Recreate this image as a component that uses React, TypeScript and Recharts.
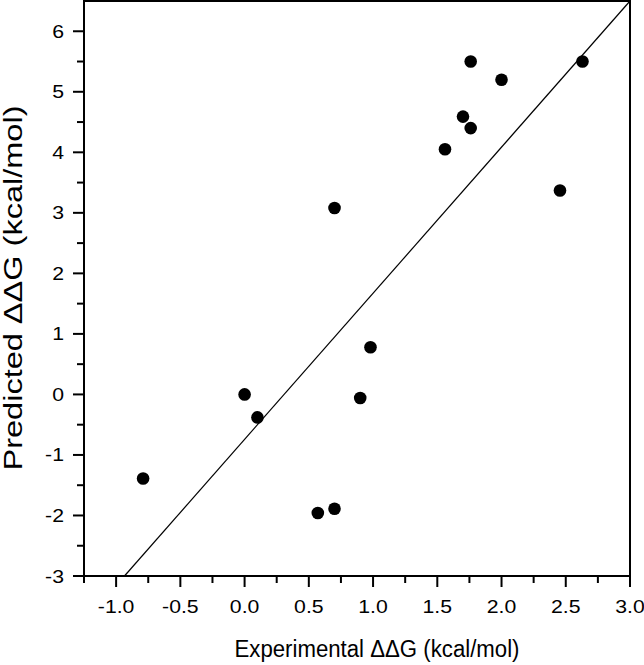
import { ScatterChart, Scatter, XAxis, YAxis, ReferenceLine, ReferenceArea } from "recharts";

// experimental vs predicted ddG
const expDDG = [-0.79, 0.0, 0.1, 0.57, 0.7, 0.9, 0.98, 0.7, 1.56, 1.7, 1.76, 1.76, 2.0, 2.455, 2.63];
const predDDG = [-1.39, 0.0, -0.38, -1.96, -1.89, -0.06, 0.78, 3.08, 4.05, 4.59, 4.4, 5.5, 5.2, 3.37, 5.5];

// fitted line end points
const fitX = [-0.935, 3.0];
const fitY = [-3.0, 6.5];

const xTicks = [-1.25, -1.0, -0.75, -0.5, -0.25, 0.0, 0.25, 0.5, 0.75, 1.0, 1.25, 1.5, 1.75, 2.0, 2.25, 2.5, 2.75, 3.0];
const xMajor = [-1.0, -0.5, 0.0, 0.5, 1.0, 1.5, 2.0, 2.5, 3.0];
const yTicks = [-3, -2.5, -2, -1.5, -1, -0.5, 0, 0.5, 1, 1.5, 2, 2.5, 3, 3.5, 4, 4.5, 5, 5.5, 6];
const yMajor = [-3, -2, -1, 0, 1, 2, 3, 4, 5, 6];

const points = expDDG.map((x, i) => ({ x, y: predDDG[i] }));

const font = "'Liberation Sans', Arial, sans-serif";

const XTick = (props: any) => {
  const { x, y, payload } = props;
  const major = xMajor.includes(payload.value);
  return (
    <g>
      <line x1={x} y1={y} x2={x} y2={y + (major ? 11 : 7)} stroke="#000" strokeWidth={2} />
      {major && (
        <text
          transform={`translate(${x},${y + 37}) scale(1.18,1)`}
          textAnchor="middle"
          fontSize={18}
          fontFamily={font}
          fill="#000"
        >
          {payload.value.toFixed(1)}
        </text>
      )}
    </g>
  );
};

const YTick = (props: any) => {
  const { x, y, payload } = props;
  const major = yMajor.includes(payload.value);
  return (
    <g>
      <line x1={x} y1={y} x2={x - (major ? 11 : 7)} y2={y} stroke="#000" strokeWidth={2} />
      {major && (
        <text
          transform={`translate(${x - 20},${y + 6.5}) scale(1.18,1)`}
          textAnchor="end"
          fontSize={18}
          fontFamily={font}
          fill="#000"
        >
          {payload.value}
        </text>
      )}
    </g>
  );
};

const Dot = (props: any) => <circle cx={props.cx} cy={props.cy} r={6.3} fill="#000" />;

export default function App() {
  return (
    <div style={{ position: "absolute", left: 0, top: 0, background: "#fff" }}>
      <ScatterChart width={644} height={665} margin={{ top: 1, right: 14, bottom: 0, left: 0 }}>
        <XAxis
          type="number"
          dataKey="x"
          domain={[-1.25, 3]}
          ticks={xTicks}
          interval={0}
          tick={<XTick />}
          tickLine={false}
          tickSize={0}
          tickMargin={0}
          axisLine={{ stroke: "#000", strokeWidth: 2 }}
          height={89}
          allowDataOverflow
        />
        <YAxis
          type="number"
          dataKey="y"
          domain={[-3, 6.5]}
          ticks={yTicks}
          interval={0}
          tick={<YTick />}
          tickLine={false}
          tickSize={0}
          tickMargin={0}
          axisLine={{ stroke: "#000", strokeWidth: 2 }}
          width={84}
          allowDataOverflow
        />
        <ReferenceArea x1={-1.25} x2={3} y1={-3} y2={6.5} fill="none" stroke="#000" strokeWidth={2} />
        <ReferenceLine
          segment={[
            { x: fitX[0], y: fitY[0] },
            { x: fitX[1], y: fitY[1] },
          ]}
          stroke="#000"
          strokeWidth={1.2}
        />
        <Scatter data={points} shape={<Dot />} isAnimationActive={false} />
        <text
          x={377}
          y={657}
          textAnchor="middle"
          fontSize={23}
          fontFamily={font}
          fill="#000"
          textLength={285}
          lengthAdjust="spacingAndGlyphs"
        >
          Experimental ΔΔG (kcal/mol)
        </text>
        <text
          transform="translate(22,288) rotate(-90)"
          textAnchor="middle"
          fontSize={25}
          fontFamily={font}
          fill="#000"
          textLength={365}
          lengthAdjust="spacingAndGlyphs"
        >
          Predicted ΔΔG (kcal/mol)
        </text>
      </ScatterChart>
    </div>
  );
}
